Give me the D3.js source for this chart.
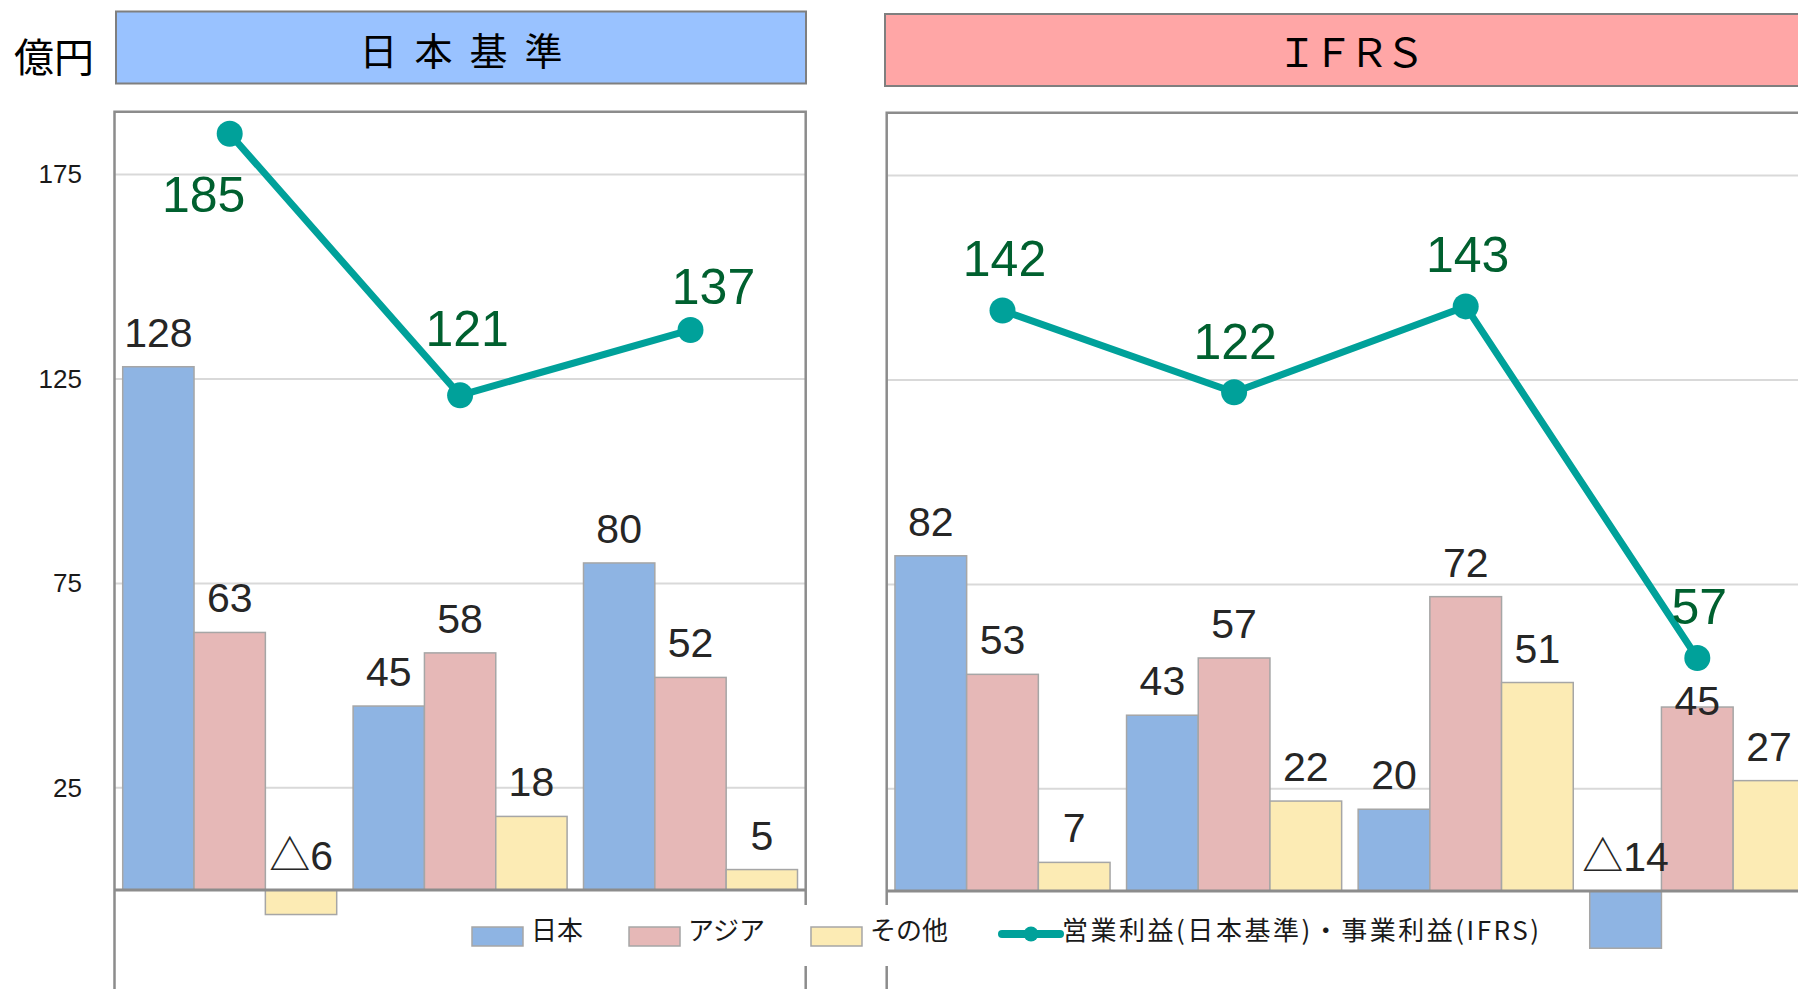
<!DOCTYPE html>
<html>
<head>
<meta charset="utf-8">
<script src="https://cdn.jsdelivr.net/npm/d3@7"></script>
<style>
  body { margin: 0; background: #fff; }
  svg { display: block; }
</style>
</head>
<body>
<svg id="chart" width="1798" height="989"></svg>
<script>
// values (億円), △ = negative
var seriesNames = ["日本", "アジア", "その他"];
var seriesColors = ["#8EB4E3", "#E6B8B7", "#FCEBB4"];
var yTicks = [25, 75, 125, 175];

var jgaapJapan  = [128, 45, 80];
var jgaapAsia   = [63, 58, 52];
var jgaapOther  = [-6, 18, 5];
var jgaapProfit = [185, 121, 137];

var ifrsJapan  = [82, 43, 20, -14];
var ifrsAsia   = [53, 57, 72, 45];
var ifrsOther  = [7, 22, 51, 27];
var ifrsProfit = [142, 122, 143, 57];

var lineLegend = "営業利益(日本基準)・事業利益(IFRS)";

var svg = d3.select("#chart");
var pxPerUnit = 4.088;
var numFont = "'Liberation Sans', Arial, 'DejaVu Sans', sans-serif";
var jpFont = "'Noto Sans CJK JP', sans-serif";
var lineColor = "#00A19A";

// writes a value into a text node, negatives get a △ in the CJK font
var putValue = function(sel, v) {
  if (v < 0) {
    sel.append("tspan").style("font-family", jpFont).text("△");
    sel.append("tspan").text(Math.abs(v));
  } else {
    sel.text(v);
  }
};

var drawPanel = function(p) {
  var g = svg.append("g");
  var n = p.profit.length;
  var x0 = d3.scaleBand().domain(d3.range(n)).range([p.left, p.left + p.groupStep * n]);
  var x1 = d3.scaleBand().domain(seriesNames).range([0, x0.bandwidth()]).paddingOuter(0.115);
  var y = d3.scaleLinear().domain([0, 175]).range([p.zero, p.zero - 175 * pxPerUnit]);
  var right = p.left + p.groupStep * n;

  // header box
  g.append("rect")
    .attr("x", p.head[0]).attr("y", p.head[1])
    .attr("width", p.head[2]).attr("height", 72)
    .attr("fill", p.headFill)
    .attr("stroke", "#7f7f7f").attr("stroke-width", 2);
  g.append("text")
    .attr("x", p.head[0] + p.head[2] / 2 + p.titleSpacing / 2)
    .attr("y", p.head[1] + 53)
    .attr("text-anchor", "middle")
    .style("font-family", jpFont).style("font-size", p.titleSize + "px")
    .style("letter-spacing", p.titleSpacing + "px")
    .attr("fill", "#000")
    .text(p.title);

  // gridlines
  g.selectAll(".grid").data(yTicks).enter().append("line")
    .attr("x1", p.left).attr("x2", right)
    .attr("y1", function(d) { return y(d); })
    .attr("y2", function(d) { return y(d); })
    .attr("stroke", "#D9D9D9").attr("stroke-width", 2);

  // bars
  var cols = [p.japan, p.asia, p.other];
  var groups = g.selectAll(".grp").data(p.profit).enter().append("g")
    .attr("transform", function(d, i) { return "translate(" + x0(i) + ",0)"; });

  groups.each(function(d, i) {
    var rows = seriesNames.map(function(s, k) { return { s: s, k: k, v: cols[k][i], gi: i }; });
    var gg = d3.select(this);
    gg.selectAll("rect").data(rows).enter().append("rect")
      .attr("x", function(r) { return x1(r.s); })
      .attr("width", x1.bandwidth())
      .attr("y", function(r) { return y(Math.max(r.v, 0)); })
      .attr("height", function(r) { return Math.abs(y(r.v) - y(0)); })
      .attr("fill", function(r) { return seriesColors[r.k]; })
      .attr("stroke", "#A6A6A6").attr("stroke-width", 1.5);
    gg.selectAll("text").data(rows).enter().append("text")
      .attr("x", function(r) { return x1(r.s) + x1.bandwidth() / 2; })
      .attr("y", function(r) {
        var nudge = (p.barNudge && p.barNudge[r.gi + "-" + r.k]) || 0;
        return y(Math.max(r.v, 0)) - 20 + nudge;
      })
      .attr("text-anchor", "middle")
      .style("font-family", numFont).style("font-size", "41px")
      .attr("fill", "#262626")
      .each(function(r) { putValue(d3.select(this), r.v); });
  });

  // zero line
  g.append("line")
    .attr("x1", p.left).attr("x2", right)
    .attr("y1", y(0)).attr("y2", y(0))
    .attr("stroke", "#8C8C8C").attr("stroke-width", 3);

  // plot frame (open at the bottom, runs past the picture)
  g.append("path")
    .attr("d", "M" + p.left + ",1010V" + p.top + "H" + right + "V1010")
    .attr("fill", "none").attr("stroke", "#8C8C8C").attr("stroke-width", 2.5);

  // profit line
  var cx = function(d, i) { return x0(i) + x0.bandwidth() / 2; };
  g.append("path")
    .datum(p.profit)
    .attr("d", d3.line().x(cx).y(function(d) { return y(d); }))
    .attr("fill", "none").attr("stroke", lineColor)
    .attr("stroke-width", 7).attr("stroke-linejoin", "round");
  g.selectAll(".dot").data(p.profit).enter().append("circle")
    .attr("cx", cx).attr("cy", function(d) { return y(d); })
    .attr("r", 13).attr("fill", lineColor);
  g.selectAll(".plab").data(p.profit).enter().append("text")
    .attr("x", function(d, i) { return cx(d, i) + p.lineNudge[i][0]; })
    .attr("y", function(d, i) { return y(d) + p.lineNudge[i][1]; })
    .attr("text-anchor", "middle")
    .style("font-family", numFont).style("font-size", "50px")
    .attr("fill", "#00602F")
    .each(function(d) { putValue(d3.select(this), d); });

  if (p.axis) {
    var ax = svg.append("g")
      .attr("transform", "translate(82,0)")
      .call(d3.axisLeft(y).tickValues(yTicks).tickSize(0).tickPadding(0));
    ax.select(".domain").remove();
    ax.selectAll("text")
      .style("font-family", numFont).style("font-size", "26px")
      .attr("fill", "#1A1A1A");
  }
};

drawPanel({
  left: 114.5, top: 111.7, groupStep: 230.4, zero: 890,
  head: [116, 11.5, 690], headFill: "#99C2FF",
  title: "日本基準", titleSize: 38, titleSpacing: 17,
  japan: jgaapJapan, asia: jgaapAsia, other: jgaapOther, profit: jgaapProfit,
  lineNudge: [[-26, 78], [7, -49], [23, -26]],
  axis: true
});

drawPanel({
  left: 886.7, top: 112.7, groupStep: 231.6, zero: 891,
  head: [885, 14, 932], headFill: "#FFA6A6",
  title: "ＩＦＲＳ", titleSize: 40, titleSpacing: -4,
  japan: ifrsJapan, asia: ifrsAsia, other: ifrsOther, profit: ifrsProfit,
  lineNudge: [[2, -35], [1, -33], [2, -34], [2, -34]],
  barNudge: { "3-1": 28 },
  axis: false
});

// unit
svg.append("text")
  .attr("x", 14).attr("y", 72)
  .style("font-family", jpFont).style("font-size", "40px")
  .attr("fill", "#000")
  .text("億円");

// legend
var legend = svg.append("g");
legend.append("rect")
  .attr("x", 462).attr("y", 905).attr("width", 1090).attr("height", 61)
  .attr("fill", "#fff");

var lx = 472;
var legendY = 940;
seriesNames.forEach(function(name, k) {
  legend.append("rect")
    .attr("x", lx).attr("y", 927).attr("width", 51).attr("height", 19)
    .attr("fill", seriesColors[k]).attr("stroke", "#A6A6A6").attr("stroke-width", 1.5);
  var t = legend.append("text")
    .attr("x", lx + 59).attr("y", legendY)
    .style("font-family", jpFont).style("font-size", "26px")
    .attr("fill", "#1A1A1A")
    .text(name);
  lx = lx + 59 + t.node().getComputedTextLength() + 46;
});
lx = lx + 8;
legend.append("line")
  .attr("x1", lx).attr("x2", lx + 58).attr("y1", 934).attr("y2", 934)
  .attr("stroke", lineColor).attr("stroke-width", 8).attr("stroke-linecap", "round");
legend.append("circle")
  .attr("cx", lx + 29).attr("cy", 934).attr("r", 7.5).attr("fill", lineColor);
legend.append("text")
  .attr("x", lx + 60).attr("y", legendY)
  .style("font-family", jpFont).style("font-size", "26px")
  .attr("fill", "#1A1A1A")
  .attr("textLength", 477).attr("lengthAdjust", "spacing")
  .text(lineLegend);
</script>
</body>
</html>
